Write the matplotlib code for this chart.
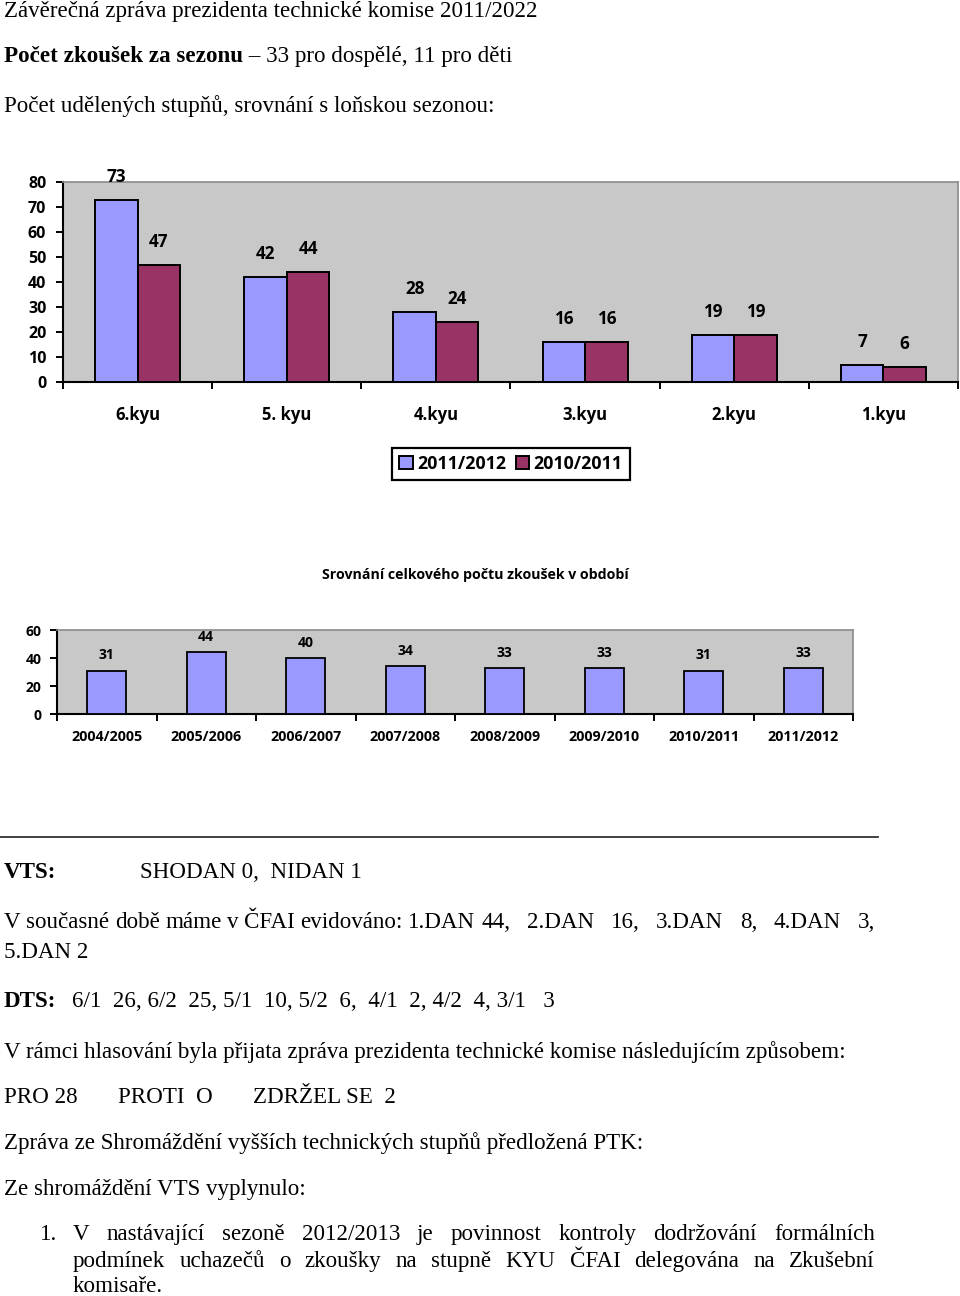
import re
import matplotlib
matplotlib.use('Agg')
import matplotlib.pyplot as plt
import numpy as np

# ---------------- data ----------------
categories = ['6.kyu', '5. kyu', '4.kyu', '3.kyu', '2.kyu', '1.kyu']
series_names = ['2011/2012', '2010/2011']
vals_2012 = [73, 42, 28, 16, 19, 7]
vals_2011 = [47, 44, 24, 16, 19, 6]
yticks1 = [0, 10, 20, 30, 40, 50, 60, 70, 80]

seasons = ['2004/2005', '2005/2006', '2006/2007', '2007/2008',
           '2008/2009', '2009/2010', '2010/2011', '2011/2012']
totals = [31, 44, 40, 34, 33, 33, 31, 33]
yticks2 = [0, 20, 40, 60]
title2 = 'Srovnání celkového počtu zkoušek v období'

# ---------------- style ----------------
W, H = 960, 1296
BLUE = '#9999FF'
MAROON = '#993366'
GRAY = '#C8C8C8'
SANS = 'Open Sans'
SERIF = 'Liberation Serif'
BS = 16.6

fig = plt.figure(figsize=(W / 100, H / 100), dpi=100)
fig.patch.set_facecolor('white')


def fr(x0, y0, x1, y1):
    return [x0 / W, 1 - y1 / H, (x1 - x0) / W, (y1 - y0) / H]


def style_axes(ax, xlab_size, ylab_size, pad_x, pad_y):
    ax.set_facecolor(GRAY)
    for s in ['left', 'bottom']:
        ax.spines[s].set_color('black')
        ax.spines[s].set_linewidth(1.5)
    for s in ['top', 'right']:
        ax.spines[s].set_color('#8a8a8a')
        ax.spines[s].set_linewidth(1.2)
    ax.tick_params(axis='x', which='major', length=0, pad=pad_x)
    ax.tick_params(axis='x', which='minor', length=5, width=1.4, direction='out')
    ax.tick_params(axis='y', which='major', length=5, width=1.4, direction='out', pad=pad_y)
    for lab in ax.get_xticklabels():
        lab.set_family(SANS)
        lab.set_fontweight('bold')
        lab.set_fontsize(xlab_size)
    for lab in ax.get_yticklabels():
        lab.set_family(SANS)
        lab.set_fontweight('bold')
        lab.set_fontsize(ylab_size)


# ---------------- chart 1 ----------------
ax1 = fig.add_axes(fr(63, 182, 958, 382))
x = np.arange(len(categories))
bw = 0.285
b1 = ax1.bar(x - bw / 2, vals_2012, bw, color=BLUE, edgecolor='black', lw=1.4,
             label=series_names[0], zorder=3)
b2 = ax1.bar(x + bw / 2, vals_2011, bw, color=MAROON, edgecolor='black', lw=1.4,
             label=series_names[1], zorder=3)
ax1.set_xlim(-0.5, len(categories) - 0.5)
ax1.set_ylim(0, 80)
ax1.set_yticks(yticks1)
ax1.set_xticks(x)
ax1.set_xticklabels(categories)
ax1.set_xticks(np.arange(-0.5, len(categories), 1), minor=True)
style_axes(ax1, 12, 11.5, 17.5, 7)
for bars, vals in ((b1, vals_2012), (b2, vals_2011)):
    for r, v in zip(bars, vals):
        ax1.annotate(str(v), (r.get_x() + r.get_width() / 2, v), xytext=(0, 16.5),
                     textcoords='offset points', ha='center', va='center',
                     family=SANS, fontweight='bold', fontsize=12.3, annotation_clip=False)

leg = fig.legend(handles=[b1, b2], labels=series_names, loc='center',
                 bbox_to_anchor=(511 / W, 1 - 464 / H), ncol=2, frameon=True,
                 fancybox=False, edgecolor='black', framealpha=1,
                 prop={'family': SANS, 'weight': 'bold', 'size': 12.8},
                 handlelength=0.75, handleheight=0.75, handletextpad=0.25,
                 columnspacing=0.55, borderpad=0.4, borderaxespad=0)
leg.get_frame().set_linewidth(1.6)

# ---------------- chart 2 ----------------
ax2 = fig.add_axes(fr(57, 630, 853, 714))
x2 = np.arange(len(seasons))
bw2 = 0.39
b3 = ax2.bar(x2, totals, bw2, color=BLUE, edgecolor='black', lw=1.3, zorder=3)
ax2.set_xlim(-0.5, len(seasons) - 0.5)
ax2.set_ylim(0, 60)
ax2.set_yticks(yticks2)
ax2.set_xticks(x2)
ax2.set_xticklabels(seasons)
ax2.set_xticks(np.arange(-0.5, len(seasons), 1), minor=True)
style_axes(ax2, 10.3, 10, 11.5, 6)
for r, v in zip(b3, totals):
    ax2.annotate(str(v), (r.get_x() + r.get_width() / 2, v), xytext=(0, 11),
                 textcoords='offset points', ha='center', va='center',
                 family=SANS, fontweight='bold', fontsize=10, annotation_clip=False)
fig.text(475 / W, 1 - 575 / H, title2, ha='center', va='center',
         family=SANS, fontweight='bold', fontsize=10.2)

# ---------------- document text ----------------
ov = fig.add_axes([0, 0, 1, 1], zorder=-5)
ov.set_xlim(0, W)
ov.set_ylim(H, 0)
ov.axis('off')
renderer = fig.canvas.get_renderer()


def put(xp, yp, s, bold=False):
    return ov.text(xp, yp, s, family=SERIF, fontsize=BS,
                   fontweight='bold' if bold else 'normal',
                   ha='left', va='baseline')


def wid(t):
    return t.get_window_extent(renderer=renderer).width


def justify(s, x0, x1, yp):
    toks = re.findall(r'\S+| +', s)
    texts = []
    total = 0.0
    nsp = 0
    for tk in toks:
        if tk.strip():
            t = put(0, yp, tk)
            w = wid(t)
            texts.append((t, w))
            total += w
        else:
            texts.append((None, len(tk)))
            nsp += len(tk)
    unit = (x1 - x0 - total) / max(nsp, 1)
    cx = x0
    for t, w in texts:
        if t is None:
            cx += unit * w
        else:
            t.set_x(cx)
            cx += w


put(4, 17, 'Závěrečná zpráva prezidenta technické komise 2011/2022')
t = put(4, 62, 'Počet zkoušek za sezonu', bold=True)
put(4 + wid(t), 62, ' – 33 pro dospělé, 11 pro děti')
put(4, 112, 'Počet udělených stupňů, srovnání s loňskou sezonou:')

ov.plot([0, 878], [837, 837], color='#333333', lw=1.3)

put(4, 878, 'VTS:', bold=True)
put(140, 878, 'SHODAN 0,  NIDAN 1')
justify('V současné době máme v ČFAI evidováno: 1.DAN 44,   2.DAN   16,   3.DAN   8,   4.DAN   3,',
        4, 875, 928)
put(4, 958, '5.DAN 2')
put(4, 1007, 'DTS:', bold=True)
put(72, 1007, '6/1  26, 6/2  25, 5/1  10, 5/2  6,  4/1  2, 4/2  4, 3/1   3')
put(4, 1058, 'V rámci hlasování byla přijata zpráva prezidenta technické komise následujícím způsobem:')
put(4, 1103, 'PRO 28')
put(118, 1103, 'PROTI  O')
put(253, 1103, 'ZDRŽEL SE  2')
put(4, 1149, 'Zpráva ze Shromáždění vyšších technických stupňů předložená PTK:')
put(4, 1195, 'Ze shromáždění VTS vyplynulo:')
put(40, 1240, '1.')
justify('V nastávající sezoně 2012/2013 je povinnost kontroly dodržování formálních', 73, 875, 1240)
justify('podmínek uchazečů o zkoušky na stupně KYU ČFAI delegována na Zkušební', 73, 875, 1267)
put(73, 1292, 'komisaře.')

fig.savefig('out.png', dpi=100, facecolor='white')
